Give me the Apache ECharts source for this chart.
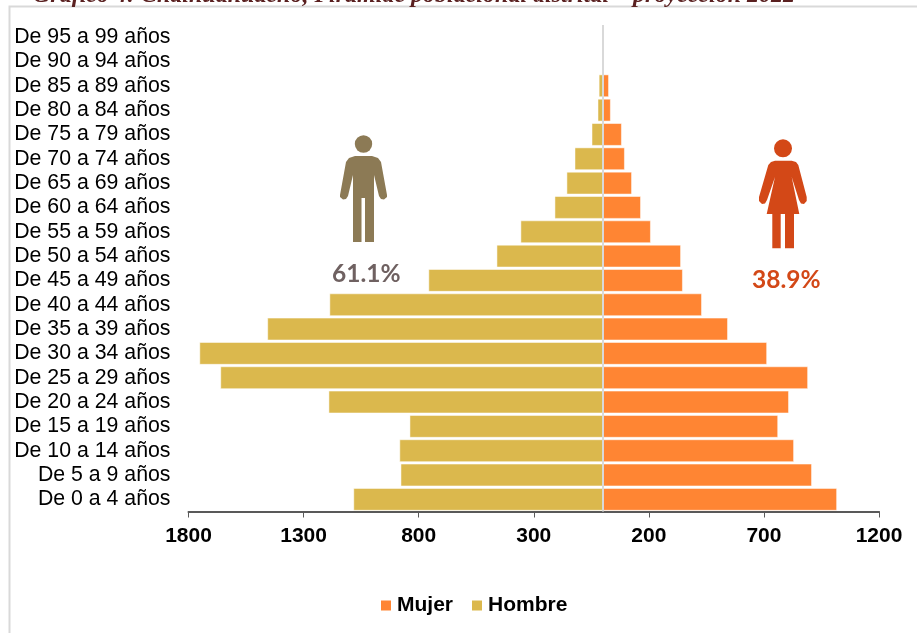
<!DOCTYPE html>
<html><head><meta charset="utf-8">
<style>html,body{margin:0;padding:0;background:#fff}#c{width:917px;height:633px}</style>
<script src="https://cdn.jsdelivr.net/npm/echarts@6/dist/echarts.min.js"></script>
</head><body><div id="c"></div>
<script>
const categories = ["De 0 a 4 años","De 5 a 9 años","De 10 a 14 años","De 15 a 19 años","De 20 a 24 años","De 25 a 29 años","De 30 a 34 años","De 35 a 39 años","De 40 a 44 años","De 45 a 49 años","De 50 a 54 años","De 55 a 59 años","De 60 a 64 años","De 65 a 69 años","De 70 a 74 años","De 75 a 79 años","De 80 a 84 años","De 85 a 89 años","De 90 a 94 años","De 95 a 99 años"];
const mujer = [1017,908,830,761,808,891,713,543,430,347,339,208,165,126,95,82,34,26,0,0];
const hombre = [1083,878,883,839,1191,1661,1752,1457,1187,757,461,357,209,157,122,48,22,17,0,0];
const hombreNeg = hombre.map(v => -v);
const titleText = "Gráfico 4: Chalhuahuacho, Pirámide poblacional distrital – proyección 2022";
const pctHombre = "61.1%";
const pctMujer = "38.9%";
const sans = "'Liberation Sans', Arial, sans-serif";
const manBody = [[15,21],[32,21],[38,23],[41,27],[47,60],[47,62],[44,64.5],[41,64],[39,61],[34,40],[34,107],[25,107],[25,63],[21.5,63],[21.5,107],[13,107],[13,40],[8,61],[6,64],[3,64.5],[0,62],[0,60],[6,27],[9,23]];
const womanBody = [[17,21.7],[33.7,21.7],[38,23],[40.3,26],[48.7,58],[48.7,62],[46,65],[43,64.5],[41,61],[33.7,38],[41.3,75],[36,75],[36,109.3],[27,109.3],[27,75],[22.7,75],[22.7,109.3],[14.3,109.3],[14.3,75],[8.7,75],[17,38],[9,61],[7,64.5],[4,65],[1,62],[1,58],[10.3,26],[13,23]];
const chart = echarts.init(document.getElementById('c'), null, {renderer:'canvas'});
chart.setOption({
  animation:false,
  backgroundColor:'#fff',
  grid:{left:188.5,right:38,top:25,bottom:121.5,containLabel:false},
  legend:{data:['Mujer','Hombre'],left:374,top:590,icon:'rect',itemWidth:12,itemHeight:12,itemGap:17,
    textStyle:{fontFamily:sans,fontWeight:'bold',fontSize:21,color:'#000'}},
  xAxis:{type:'value',min:-1800,max:1200,interval:500,
    axisLine:{show:true,lineStyle:{color:'#595959',width:2}},
    axisTick:{show:true,inside:false,length:6,lineStyle:{color:'#595959',width:1}},
    splitLine:{show:false},
    axisLabel:{formatter:v=>String(Math.abs(v)),fontFamily:sans,fontWeight:'bold',fontSize:21,color:'#000',margin:14,showMinLabel:true,showMaxLabel:true}},
  yAxis:{type:'category',data:categories,axisLine:{show:false},axisTick:{show:false},
    axisLabel:{fontFamily:sans,fontSize:21.3,color:'#000',margin:18,interval:0,padding:[5,0,0,0]}},
  series:[
    {name:'Mujer',type:'bar',data:mujer,barGap:'-100%',barCategoryGap:'8%',
     itemStyle:{color:'#ff8533',borderColor:'#fff',borderWidth:0.5}},
    {name:'Hombre',type:'bar',data:hombreNeg,
     itemStyle:{color:'#dbb84d',borderColor:'#fff',borderWidth:0.5},
     markLine:{silent:true,symbol:'none',label:{show:false},animation:false,
       lineStyle:{color:'#d9d9d9',width:2,type:'solid'},data:[{xAxis:0}]}}
  ],
  graphic:[
    {type:'rect',silent:true,z:-1,shape:{x:9.5,y:6.5,width:930,height:660},style:{fill:'none',stroke:'#d9d9d9',lineWidth:2}},
    {type:'text',silent:true,x:33,y:-16,style:{text:titleText,font:"italic bold 24px 'Liberation Serif', serif",fill:'#5a2020'}},
    {type:'group',silent:true,x:340,y:135,children:[
      {type:'circle',shape:{cx:23.5,cy:9,r:8.7},style:{fill:'#8c7a55'}},
      {type:'polygon',shape:{points:manBody},style:{fill:'#8c7a55'}}
    ]},
    {type:'group',silent:true,x:758,y:139,children:[
      {type:'circle',shape:{cx:25,cy:9.3,r:9},style:{fill:'#d34817'}},
      {type:'polygon',shape:{points:womanBody},style:{fill:'#d34817'}}
    ]},
    {type:'text',silent:true,x:332,y:262,style:{text:pctHombre,font:"bold 24.5px Lato, sans-serif",fill:'#6f6161'}},
    {type:'text',silent:true,x:752,y:268,style:{text:pctMujer,font:"bold 24.5px Lato, sans-serif",fill:'#d34817'}}
  ]
});
</script></body></html>
